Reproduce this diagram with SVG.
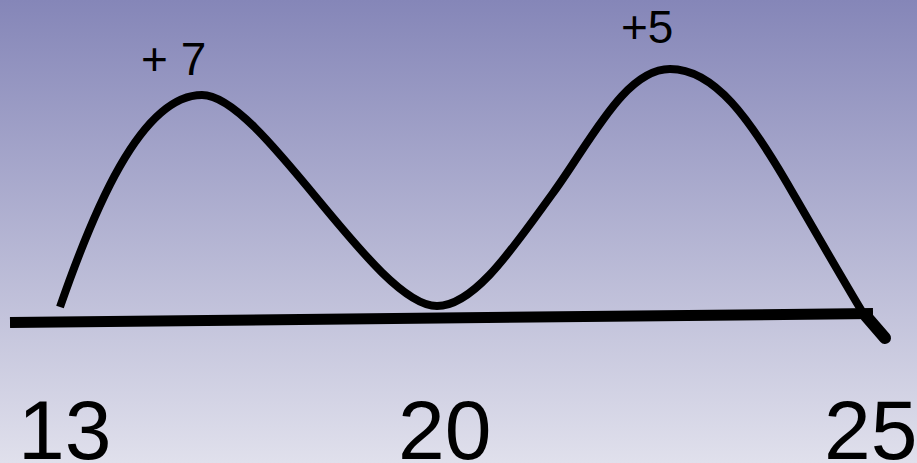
<svg xmlns="http://www.w3.org/2000/svg" width="917" height="463" viewBox="0 0 917 463">
  <defs>
    <linearGradient id="bg" x1="0" y1="0" x2="0" y2="1">
      <stop offset="0" stop-color="#8586b8"/>
      <stop offset="1" stop-color="#e0e0ec"/>
    </linearGradient>
  </defs>
  <style>
    .lbl { font-family: "Liberation Sans", Arial, sans-serif; fill: #000; }
    .small { font-size: 46px; }
    .big { font-size: 84px; }
    .ink { fill: none; stroke: #000; }
  </style>
  <rect x="0" y="0" width="917" height="463" fill="url(#bg)"/>
  <g id="axis">
    <line class="ink" x1="10" y1="322.5" x2="873" y2="313.5" stroke-width="11"/>
  </g>
  <g id="wave">
    <path class="ink" stroke-width="8" stroke-linecap="butt" d="M60,307 C92,215 140,95 202,95 C262,95 375,306 437,306 C475,306 515,245 553,193 C591,141 625,69 670,69 C715,69 750,120 787,183 C820,240 850,292 866,318"/>
    <path class="ink" stroke-width="12" stroke-linecap="round" d="M866,316 L885,338"/>
  </g>
  <g id="labels">
    <text class="lbl small" x="141" y="75">+ 7</text>
    <text class="lbl small" x="621" y="43">+5</text>
    <text class="lbl big" x="18" y="459">13</text>
    <text class="lbl big" x="398" y="459">20</text>
    <text class="lbl big" x="824" y="459">25</text>
  </g>
</svg>
